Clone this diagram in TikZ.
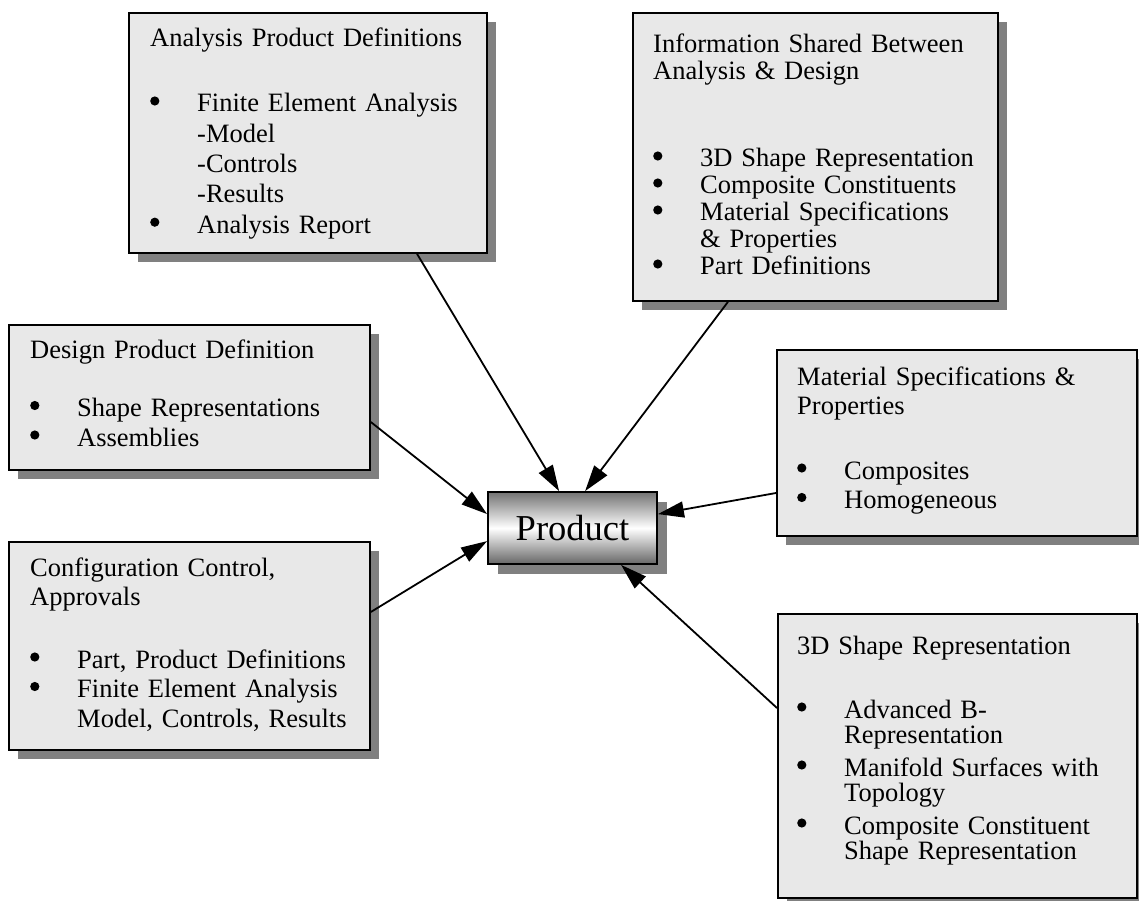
\documentclass[tikz,border=0pt]{standalone}
\usepackage{fontspec}
\setmainfont{Liberation Serif}
\usetikzlibrary{arrows.meta,shadows,calc}
\definecolor{boxfill}{HTML}{E8E8E8}
\definecolor{shadowgray}{HTML}{808080}
% round bullet, its centre 11pt above the baseline
\newcommand{\bdot}{\tikz[baseline=0pt]\fill[black] (0pt,11pt) circle (4.6pt);}
% bullet item and continuation line inside the panels
\newcommand{\bul}[1]{\makebox[47pt][l]{\bdot}#1}
\newcommand{\cnt}[1]{\hspace*{47pt}#1}

\begin{document}
\begin{tikzpicture}[x=1pt,y=-1pt,
  panel/.style={draw=black, line width=1.8pt, fill=boxfill, anchor=north west,
    inner sep=0pt, drop shadow={shadow xshift=9pt, shadow yshift=-9pt, fill=shadowgray, opacity=1}},
  boxtext/.style={anchor=base west, inner sep=0pt, align=left, text width=420pt,
    font=\fontsize{26.5}{#1}\selectfont},
  boxtext/.default=29.5pt,
  link/.style={line width=1.8pt, -{Triangle[length=26pt,width=16pt]}}
]
\useasboundingbox (0,0) rectangle (1139,901);

% panels
\node[panel, minimum width=358pt, minimum height=240pt] (b1) at (128,12) {};
\node[panel, minimum width=365pt, minimum height=288pt] (b2) at (632,12) {};
\node[panel, minimum width=361pt, minimum height=145pt] (b3) at (8,324) {};
\node[panel, minimum width=361pt, minimum height=208pt] (b4) at (8,541) {};
\node[panel, minimum width=360pt, minimum height=186pt] (b5) at (776,349) {};
\node[panel, minimum width=359pt, minimum height=284pt] (b6) at (777,613) {};

% panel contents
\node[boxtext=30.3pt] (t1) at (150,47) {Analysis Product Definitions\\[34.7pt]
  \bul{Finite Element Analysis}\\ \cnt{-Model}\\ \cnt{-Controls}\\ \cnt{-Results}\\
  \bul{Analysis Report}};
\node[boxtext=27pt] (t2) at (653,53) {Information Shared Between\\ Analysis \& Design\\[60pt]
  \bul{3D Shape Representation}\\ \bul{Composite Constituents}\\
  \bul{Material Specifications}\\ \cnt{\& Properties}\\ \bul{Part Definitions}};
\node[boxtext] (t3) at (30,358) {Design Product Definition\\[29pt]
  \bul{Shape Representations}\\ \bul{Assemblies}};
\node[boxtext] (t4) at (30,576) {Configuration Control,\\ Approvals\\[33pt]
  \bul{Part, Product Definitions}\\ \bul{Finite Element Analysis}\\
  \cnt{Model, Controls, Results}};
\node[boxtext] (t5) at (797,385) {Material Specifications \&\\ Properties\\[35pt]
  \bul{Composites}\\ \bul{Homogeneous}};
\node[boxtext=25pt] (t6) at (797,654) {3D Shape Representation\\[39pt]
  \bul{Advanced B-}\\ \cnt{Representation}\\[8pt] \bul{Manifold Surfaces with}\\
  \cnt{Topology}\\[8pt] \bul{Composite Constituent}\\ \cnt{Shape Representation}};

% central product box
\node[draw=black, line width=1.8pt, minimum width=169pt, minimum height=72pt,
  top color=black!55, bottom color=black!60, middle color=white,
  drop shadow={shadow xshift=10pt, shadow yshift=-10pt, fill=shadowgray, opacity=1},
  font=\fontsize{36.5}{40}\selectfont] (p) at (572.5,528) {Product};

% connectors
\draw[link] ($(b1.south west)+(289,0)$) -- ($(p.north west)+(72,0)$);
\draw[link] ($(b2.south west)+(96,0)$) -- ($(p.north west)+(98,0)$);
\draw[link] ($(b3.north east)+(0,98)$) -- ($(p.north west)+(0,23)$);
\draw[link] ($(b4.north east)+(0,71)$) -- ($(p.north west)+(0,50)$);
\draw[link] ($(b5.north west)+(0,144)$) -- ($(p.north east)+(0,23)$);
\draw[link] ($(b6.north west)+(0,95)$) -- ($(p.south west)+(134,0)$);
\end{tikzpicture}
\end{document}
